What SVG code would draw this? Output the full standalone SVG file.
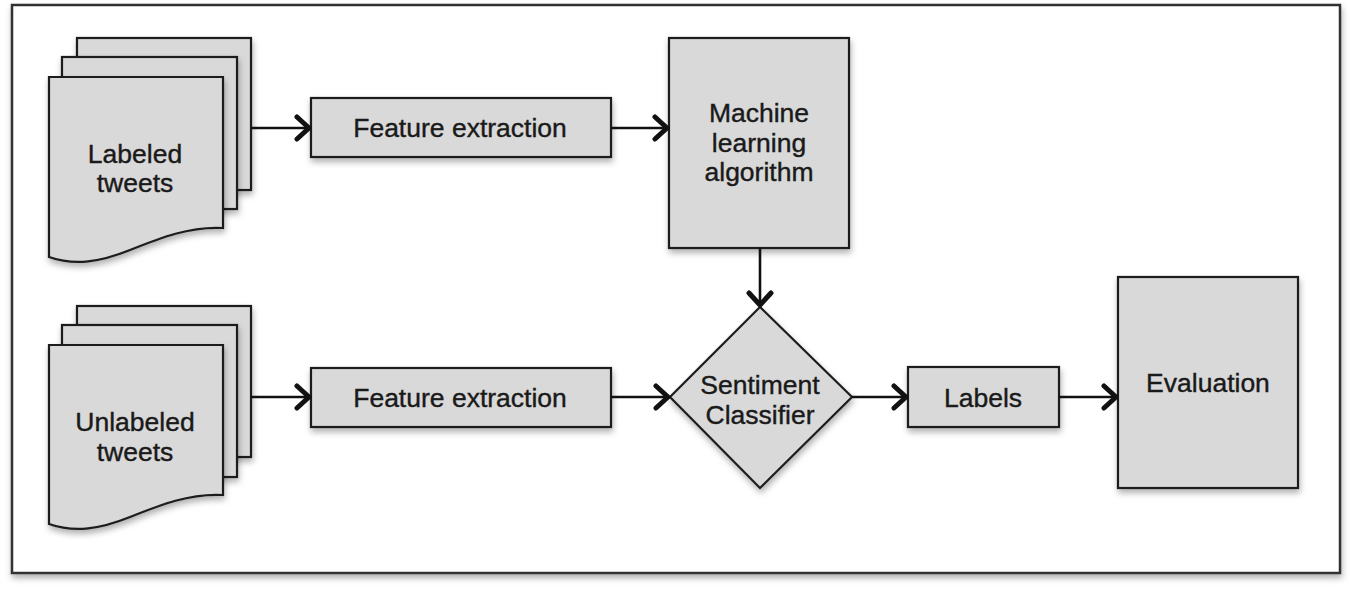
<svg xmlns="http://www.w3.org/2000/svg" width="1350" height="589" viewBox="0 0 1350 589">
<defs>
<filter id="sh" x="-10%" y="-10%" width="130%" height="130%">
<feDropShadow dx="1" dy="4" stdDeviation="3" flood-color="#000" flood-opacity="0.3"/>
</filter>
<marker id="chev" markerUnits="userSpaceOnUse" viewBox="0 0 18 28" markerWidth="18" markerHeight="28" refX="16" refY="14" orient="auto">
<path d="M3,3 L15,14 L3,25" fill="none" stroke="#111" stroke-width="5" stroke-linecap="round" stroke-linejoin="round"/>
</marker>
<style>
.shape{fill:#d9d9d9;stroke:#1e1e1e;stroke-width:2.2;filter:url(#sh)}
.lbl{font-family:"Liberation Sans",Arial,sans-serif;font-size:26.5px;fill:#1a1a1a;stroke:#1a1a1a;stroke-width:0.4;text-anchor:middle;dominant-baseline:central}
.conn{stroke:#111;stroke-width:2.6;fill:none;marker-end:url(#chev)}
</style>
</defs>
<rect width="1350" height="589" fill="#fff"/>
<rect id="frame" x="12" y="5" width="1328" height="568" fill="#fff" stroke="#333" stroke-width="2.5" filter="url(#sh)"/>

<g id="labeled-tweets">
<rect class="shape" x="77" y="38" width="174" height="152"/>
<rect class="shape" x="62" y="57" width="175" height="152"/>
<path class="shape" d="M49,77 L223,77 L223,228 C190,226 160,238 130,250 C100,262 75,266 49,257 Z"/>
<text class="lbl" x="135" y="154">Labeled</text>
<text class="lbl" x="135" y="183">tweets</text>
</g>

<g id="unlabeled-tweets">
<rect class="shape" x="77" y="306" width="174" height="151"/>
<rect class="shape" x="62" y="325" width="175" height="152"/>
<path class="shape" d="M49,345 L223,345 L223,495 C190,493 160,505 130,517 C100,529 75,533 49,524 Z"/>
<text class="lbl" x="135" y="422">Unlabeled</text>
<text class="lbl" x="135" y="452">tweets</text>
</g>

<g id="feature-extraction-1">
<rect class="shape" x="311" y="98" width="300" height="59"/>
<text class="lbl" x="460" y="128">Feature extraction</text>
</g>

<g id="feature-extraction-2">
<rect class="shape" x="311" y="368" width="300" height="59"/>
<text class="lbl" x="460" y="398">Feature extraction</text>
</g>

<g id="ml-algorithm">
<rect class="shape" x="669" y="38" width="180" height="210"/>
<text class="lbl" x="759" y="113">Machine</text>
<text class="lbl" x="759" y="143">learning</text>
<text class="lbl" x="759" y="172">algorithm</text>
</g>

<g id="sentiment-classifier">
<path class="shape" d="M760,307 L852,397 L760,488 L670,397 Z"/>
<text class="lbl" x="760" y="385">Sentiment</text>
<text class="lbl" x="760" y="415">Classifier</text>
</g>

<g id="labels">
<rect class="shape" x="908" y="367" width="151" height="60"/>
<text class="lbl" x="983" y="398">Labels</text>
</g>

<g id="evaluation">
<rect class="shape" x="1118" y="277" width="180" height="211"/>
<text class="lbl" x="1208" y="383">Evaluation</text>
</g>

<g id="connectors">
<line class="conn" x1="251" y1="128" x2="310" y2="128"/>
<line class="conn" x1="611" y1="128" x2="668" y2="128"/>
<line class="conn" x1="251" y1="397" x2="310" y2="397"/>
<line class="conn" x1="611" y1="397" x2="669" y2="397"/>
<line class="conn" x1="760" y1="248" x2="760" y2="306"/>
<line class="conn" x1="852" y1="397" x2="907" y2="397"/>
<line class="conn" x1="1059" y1="397" x2="1117" y2="397"/>
</g>
</svg>
